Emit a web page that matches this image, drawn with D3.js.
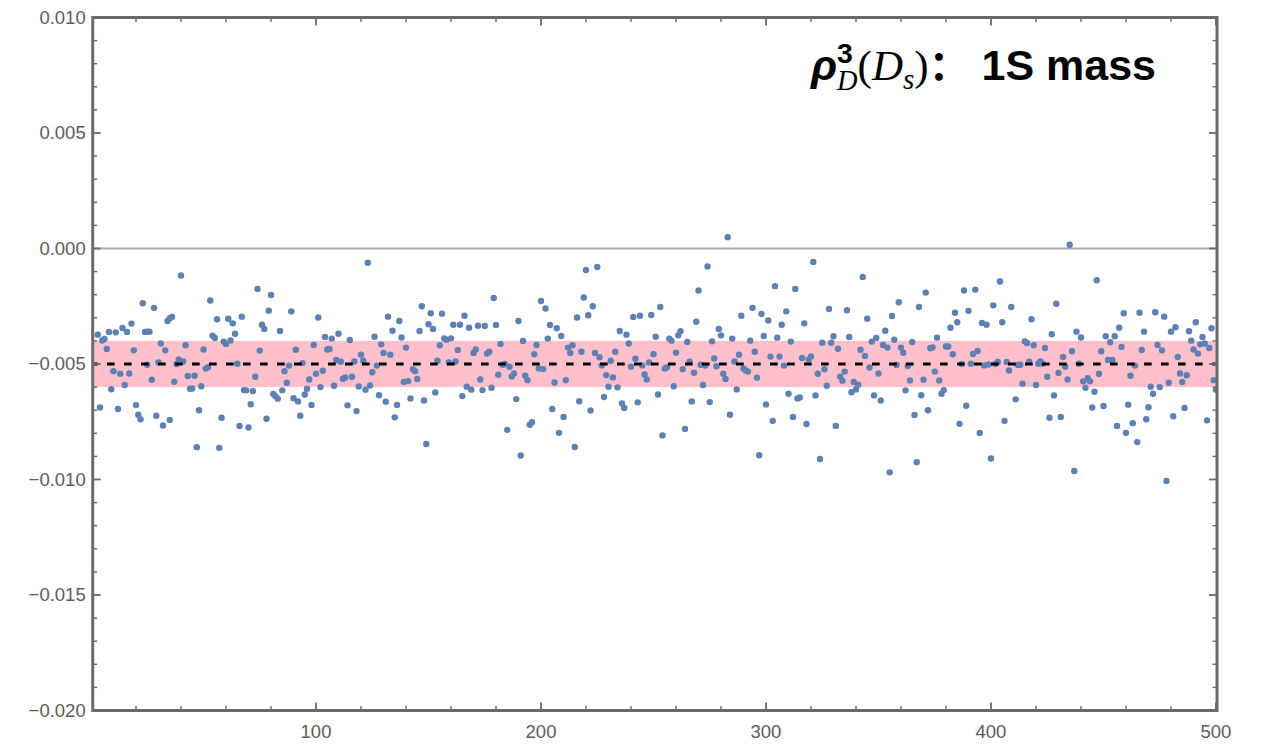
<!DOCTYPE html>
<html><head><meta charset="utf-8">
<script src="https://cdn.jsdelivr.net/npm/d3@7"></script>
<style>body{margin:0;background:#fff;} svg{display:block;}</style>
</head><body>
<svg id="chart" width="1263" height="746"></svg>
<script>
// values in units of 1e-3: [sample index, value]
const UNIT = 1e-3;
const points001to100 = [[3,-3.73],[4,-6.88],[5,-3.98],[6,-3.92],[7,-4.35],[8,-3.61],[9,-6.09],[10,-5.31],[11,-3.63],[12,-6.95],[13,-5.42],[14,-3.44],[15,-5.91],[16,-3.61],[17,-5.41],[18,-3.25],[19,-4.41],[20,-6.78],[21,-7.20],[22,-7.39],[23,-2.37],[24,-3.61],[25,-5.03],[25,-3.60],[26,-3.60],[27,-5.68],[28,-2.57],[29,-7.24],[30,-4.93],[31,-4.11],[32,-7.66],[33,-4.41],[34,-3.14],[35,-3.02],[35,-7.42],[36,-2.96],[37,-5.77],[38,-5.00],[39,-4.80],[40,-1.17],[41,-4.89],[42,-4.19],[43,-5.52],[44,-6.07],[45,-6.06],[46,-5.51],[47,-8.60],[48,-7.00],[49,-5.96],[50,-4.37],[51,-5.20],[52,-5.14],[53,-2.25],[54,-3.77],[55,-3.87],[56,-3.06],[57,-8.63],[58,-7.33],[59,-4.03],[60,-4.13],[61,-3.04],[62,-3.98],[63,-3.24],[64,-3.69],[65,-4.99],[66,-7.68],[67,-2.95],[68,-6.13],[69,-6.14],[70,-7.75],[71,-6.74],[72,-6.17],[73,-5.55],[74,-1.75],[75,-4.42],[76,-3.30],[77,-3.48],[78,-7.37],[79,-2.69],[80,-2.01],[81,-6.30],[82,-6.40],[83,-6.50],[84,-3.57],[85,-6.14],[86,-5.31],[87,-5.81],[88,-5.07],[89,-2.72],[90,-6.48],[91,-4.38],[92,-6.62],[93,-7.24],[94,-4.96],[95,-6.32],[96,-6.07],[97,-5.67],[98,-6.77],[99,-4.18],[100,-5.42]];
const points101to200 = [[101,-2.99],[102,-6.00],[103,-5.29],[104,-3.83],[105,-4.37],[106,-4.35],[107,-3.90],[108,-5.94],[109,-4.83],[110,-3.69],[111,-4.90],[112,-5.64],[113,-5.58],[114,-6.79],[115,-3.96],[116,-5.55],[117,-4.89],[118,-7.04],[119,-5.97],[120,-4.60],[121,-4.86],[122,-6.11],[123,-0.62],[124,-5.93],[125,-5.36],[126,-3.82],[127,-5.07],[128,-6.35],[129,-4.15],[130,-4.52],[131,-6.63],[132,-2.95],[133,-4.60],[134,-3.56],[135,-7.31],[136,-6.77],[137,-3.14],[138,-3.85],[139,-5.78],[140,-4.29],[141,-5.74],[142,-6.49],[143,-5.22],[144,-5.31],[145,-5.65],[146,-3.57],[147,-2.50],[148,-6.58],[149,-8.46],[150,-3.28],[151,-2.80],[152,-3.48],[153,-6.23],[154,-4.86],[155,-4.19],[156,-2.82],[157,-3.89],[158,-3.95],[159,-4.93],[160,-3.89],[161,-3.30],[162,-4.89],[163,-4.39],[164,-3.30],[165,-6.39],[166,-2.91],[167,-5.98],[168,-3.43],[169,-6.11],[170,-4.52],[171,-4.37],[172,-3.34],[173,-5.67],[174,-6.13],[175,-3.35],[176,-4.55],[177,-4.47],[178,-6.03],[179,-2.14],[180,-3.31],[181,-5.46],[182,-4.13],[183,-5.03],[184,-5.00],[185,-7.85],[186,-5.12],[187,-5.54],[188,-5.41],[189,-6.52],[190,-3.14],[191,-8.96],[192,-4.00],[193,-5.51],[194,-5.70],[195,-7.63],[196,-7.52],[197,-4.58],[198,-4.18],[199,-5.19],[200,-2.27]];
const points201to300 = [[201,-5.22],[202,-2.60],[203,-3.90],[204,-3.31],[205,-6.95],[206,-5.80],[207,-3.45],[208,-7.98],[209,-3.79],[210,-7.29],[211,-5.70],[212,-4.29],[213,-4.52],[214,-4.19],[215,-8.59],[216,-2.99],[217,-6.61],[218,-4.47],[219,-2.12],[220,-0.93],[221,-2.89],[222,-7.01],[223,-2.50],[224,-4.52],[225,-0.80],[226,-4.71],[227,-5.06],[228,-6.43],[229,-5.48],[230,-5.98],[231,-4.86],[232,-5.58],[233,-4.47],[234,-6.01],[235,-3.57],[236,-6.71],[237,-6.90],[238,-3.73],[239,-4.11],[240,-5.12],[241,-2.96],[242,-4.77],[243,-6.66],[244,-2.91],[245,-5.06],[246,-5.45],[247,-5.67],[248,-4.93],[249,-2.88],[250,-4.58],[251,-3.82],[252,-6.32],[253,-2.53],[254,-8.09],[255,-5.20],[256,-5.14],[257,-3.90],[258,-3.99],[259,-5.96],[260,-4.51],[261,-3.76],[262,-3.58],[263,-5.23],[264,-7.81],[265,-4.05],[266,-4.90],[267,-6.62],[268,-5.38],[269,-3.17],[270,-1.82],[271,-5.03],[272,-5.91],[273,-5.07],[274,-0.78],[275,-6.65],[276,-4.02],[277,-4.76],[278,-5.10],[279,-3.48],[280,-3.76],[281,-5.42],[282,-5.65],[283,0.49],[284,-7.20],[285,-3.90],[286,-4.89],[287,-6.10],[288,-4.60],[289,-2.91],[290,-5.19],[291,-5.28],[292,-5.33],[293,-3.99],[294,-2.57],[295,-4.47],[296,-5.59],[297,-8.95],[298,-2.83],[299,-3.79],[300,-6.75]];
const points301to400 = [[301,-3.12],[302,-4.68],[303,-7.46],[304,-1.63],[305,-3.86],[306,-4.68],[307,-3.30],[308,-5.07],[309,-2.72],[310,-6.29],[311,-4.03],[312,-7.29],[313,-1.75],[314,-6.49],[315,-6.45],[316,-4.74],[317,-3.24],[318,-7.60],[319,-4.80],[320,-4.67],[321,-0.58],[322,-6.36],[323,-5.42],[324,-9.11],[325,-4.08],[326,-5.23],[327,-5.94],[328,-2.62],[329,-4.08],[330,-3.80],[331,-7.68],[332,-4.34],[333,-5.55],[334,-5.72],[335,-5.33],[336,-2.67],[337,-3.83],[338,-6.22],[339,-5.78],[340,-6.10],[341,-5.90],[342,-4.38],[343,-1.23],[344,-4.65],[345,-3.04],[346,-5.15],[347,-4.03],[348,-6.36],[349,-3.87],[350,-5.41],[351,-6.58],[352,-4.18],[353,-3.56],[354,-4.29],[355,-9.69],[356,-2.92],[357,-3.95],[358,-5.04],[359,-2.33],[360,-4.29],[361,-4.51],[362,-6.14],[363,-5.09],[364,-5.71],[365,-4.05],[366,-7.21],[367,-9.25],[368,-2.53],[369,-6.35],[370,-5.68],[371,-1.91],[372,-7.00],[373,-4.32],[374,-4.28],[375,-5.33],[376,-3.86],[377,-5.71],[378,-6.29],[379,-6.13],[380,-4.24],[381,-4.24],[382,-3.43],[383,-4.58],[384,-2.78],[385,-3.19],[386,-7.59],[387,-5.00],[388,-1.82],[389,-6.81],[390,-2.70],[391,-4.99],[392,-4.57],[393,-1.78],[394,-4.44],[395,-7.99],[396,-3.22],[397,-5.06],[398,-3.30],[399,-5.02],[400,-9.09]];
const points401to500 = [[401,-2.46],[402,-5.00],[403,-4.91],[404,-1.43],[405,-3.19],[406,-7.46],[407,-4.91],[408,-5.28],[409,-2.53],[411,-6.53],[412,-5.04],[413,-5.03],[414,-5.85],[415,-4.02],[416,-4.09],[417,-4.90],[418,-3.06],[419,-4.19],[420,-5.91],[421,-4.99],[422,-4.89],[423,-4.99],[424,-4.31],[425,-5.55],[426,-7.33],[427,-3.71],[428,-6.36],[429,-2.39],[430,-5.39],[431,-7.29],[432,-4.70],[433,-5.12],[434,-5.67],[435,0.16],[436,-4.45],[437,-9.63],[438,-3.60],[439,-4.99],[440,-3.85],[441,-5.75],[442,-6.03],[443,-5.61],[444,-5.75],[445,-6.88],[446,-6.20],[447,-1.37],[448,-5.42],[449,-4.45],[450,-6.82],[451,-3.80],[452,-4.83],[453,-4.06],[454,-4.83],[455,-3.80],[456,-7.68],[457,-3.43],[458,-4.26],[459,-2.80],[460,-7.98],[461,-6.76],[462,-5.51],[463,-7.56],[464,-5.07],[465,-8.38],[466,-2.78],[467,-4.39],[468,-3.60],[469,-7.39],[470,-6.87],[471,-5.98],[472,-6.29],[473,-2.76],[474,-4.18],[475,-6.00],[476,-4.41],[477,-2.95],[478,-10.06],[479,-5.81],[480,-3.60],[481,-7.26],[482,-3.41],[483,-4.70],[484,-5.41],[485,-5.78],[486,-6.90],[487,-5.49],[488,-3.58],[489,-3.99],[490,-4.37],[491,-3.19],[492,-4.55],[493,-4.15],[494,-3.83],[495,-4.11],[496,-7.44],[497,-4.31],[498,-3.45],[499,-5.70],[500,-6.11]];

const centralValue = -0.005;
const bandLow = -0.006;
const bandHigh = -0.004;
const xTicks = [100, 200, 300, 400, 500];
const xTickLabels = ["100", "200", "300", "400", "500"];
const yTicks = [0.01, 0.005, 0, -0.005, -0.01, -0.015, -0.02];
const yTickLabels = ["0.010", "0.005", "0.000", "\u22120.005", "\u22120.010", "\u22120.015", "\u22120.020"];
const xDomain = [0.75, 500.45];
const yDomain = [-0.02, 0.01];

const allPoints = [].concat(points001to100, points101to200, points201to300, points301to400, points401to500)
  .map(d => ({i: d[0], v: d[1] * UNIT}));

const svg = d3.select("#chart");
const L = 92.7, R = 1217, T = 17.5, B = 710.5;
const x = d3.scaleLinear().domain(xDomain).range([L, R]);
const y = d3.scaleLinear().domain(yDomain).range([B, T]);

const frameColor = "#6b6b6b";
const labelColor = "#5c5c5c";
const font = "'Liberation Sans', Arial, sans-serif";

const plot = svg.append("g");
plot.append("defs").append("clipPath").attr("id", "clip")
  .append("rect").attr("x", L).attr("y", T).attr("width", R - L).attr("height", B - T);

// band
plot.append("rect")
  .attr("x", L).attr("width", R - L)
  .attr("y", y(bandHigh)).attr("height", y(bandLow) - y(bandHigh))
  .attr("fill", "#ffc0cb");

// zero line
plot.append("line")
  .attr("x1", L).attr("x2", R).attr("y1", y(0)).attr("y2", y(0))
  .attr("stroke", "#ababab").attr("stroke-width", 2);

// points
plot.append("g").attr("clip-path", "url(#clip)")
  .selectAll("circle").data(allPoints).join("circle")
  .attr("cx", d => x(d.i)).attr("cy", d => y(d.v)).attr("r", 3.2)
  .attr("fill", "#5e81b5");

// dashed central line
plot.append("line")
  .attr("x1", L).attr("x2", R).attr("y1", y(centralValue)).attr("y2", y(centralValue))
  .attr("stroke", "#000").attr("stroke-width", 3.2)
  .attr("stroke-dasharray", "7.7,9.3").attr("stroke-dashoffset", 2.7);

// frame ticks
const ticksG = svg.append("g").attr("stroke", frameColor);
const xMinor = d3.range(20, 501, 20);
xMinor.forEach(t => {
  const major = t % 100 === 0;
  const len = major ? 8 : 4.5;
  const w = major ? 1.8 : 1.4;
  ticksG.append("line").attr("x1", x(t)).attr("x2", x(t)).attr("y1", B).attr("y2", B - len).attr("stroke-width", w);
  ticksG.append("line").attr("x1", x(t)).attr("x2", x(t)).attr("y1", T).attr("y2", T + len).attr("stroke-width", w);
});
const yMinor = d3.range(-20, 11, 1).map(k => k / 1000);
yMinor.forEach(t => {
  const major = (Math.round(t * 1000) % 5) === 0;
  const len = major ? 8 : 4.5;
  const w = major ? 1.8 : 1.4;
  ticksG.append("line").attr("x1", L).attr("x2", L + len).attr("y1", y(t)).attr("y2", y(t)).attr("stroke-width", w);
  ticksG.append("line").attr("x1", R).attr("x2", R - len).attr("y1", y(t)).attr("y2", y(t)).attr("stroke-width", w);
});

// frame
svg.append("rect").attr("x", L).attr("y", T).attr("width", R - L).attr("height", B - T)
  .attr("fill", "none").attr("stroke", frameColor).attr("stroke-width", 3);

// tick labels
svg.append("g").selectAll("text").data(yTicks).join("text")
  .attr("x", L - 7).attr("y", d => y(d)).attr("dy", "0.35em")
  .attr("text-anchor", "end").attr("font-family", font).attr("font-size", 18.5)
  .attr("fill", labelColor).text((d, i) => yTickLabels[i]);
svg.append("g").selectAll("text").data(xTicks).join("text")
  .attr("x", d => x(d)).attr("y", B + 27)
  .attr("text-anchor", "middle").attr("font-family", font).attr("font-size", 18.5)
  .attr("fill", labelColor).text((d, i) => xTickLabels[i]);

// title: one text element with tspans (superscript 3 stacked over subscript D)
const serif = "'Liberation Serif', 'Times New Roman', serif";
const S = 43;
const pieces = [
  {t: "\u03C1", f: font, s: S, w: "bold", st: "italic", shift: 0},
  {t: "3", f: font, s: S * 0.66, w: "bold", st: "normal", shift: -17, stack: true},
  {t: "D", f: serif, s: S * 0.66, w: "normal", st: "italic", shift: 10},
  {t: "(", f: serif, s: S, w: "normal", st: "normal", shift: 0},
  {t: "D", f: serif, s: S, w: "normal", st: "italic", shift: 0},
  {t: "s", f: serif, s: S * 0.68, w: "normal", st: "italic", shift: 9},
  {t: ")", f: serif, s: S, w: "normal", st: "normal", shift: 0},
  {t: "\uFF1A", f: "'Noto Sans CJK SC', sans-serif", s: S * 0.95, w: "bold", st: "normal", shift: 0},
  {t: "\u00A01S mass", f: font, s: S, w: "bold", st: "normal", shift: 0}
];
// measure widths
const meas = svg.append("text").attr("visibility", "hidden");
pieces.forEach(p => {
  meas.attr("font-family", p.f).attr("font-size", p.s).attr("font-weight", p.w).attr("font-style", p.st).text(p.t);
  p.width = meas.node().getComputedTextLength();
});
meas.remove();
const baseY = 80;
const title = svg.append("text").attr("y", baseY).attr("fill", "#000");
let prevShift = 0, stackW = 0, total = 0;
pieces.forEach((p, k) => {
  const ts = title.append("tspan")
    .attr("font-family", p.f).attr("font-size", p.s).attr("font-weight", p.w).attr("font-style", p.st)
    .attr("dy", p.shift - prevShift).text(p.t);
  prevShift = p.shift;
  if (p.stack) {
    stackW = p.width;
    total += p.width;
  } else if (k > 0 && pieces[k - 1].stack) {
    ts.attr("dx", -stackW);
    total += Math.max(0, p.width - stackW) + 2;
    if (p.width < stackW) ts.attr("dx", -stackW);
  } else {
    total += p.width;
  }
});
// fix trailing space after stacked sub if needed
const titleRight = 1158;
title.attr("x", titleRight - total);
</script>
</body></html>
